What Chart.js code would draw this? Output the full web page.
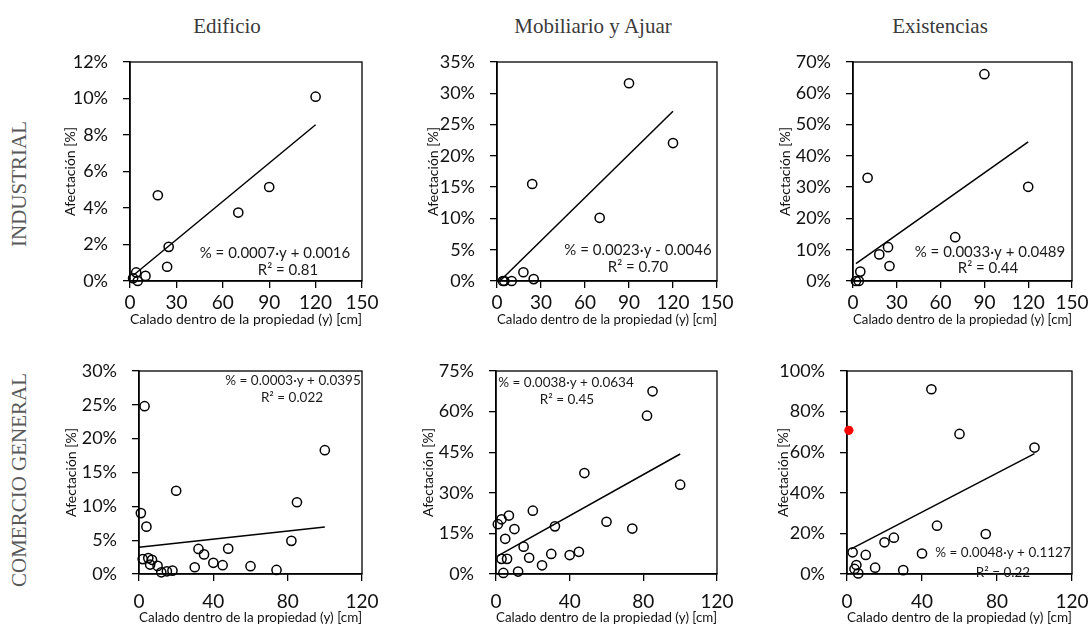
<!DOCTYPE html>
<html>
<head>
<meta charset="utf-8">
<script src="https://cdn.jsdelivr.net/npm/chart.js@4.4.1/dist/chart.umd.min.js"></script>
<style>
  body { margin: 0; background: #fff; width: 1091px; height: 629px; position: relative; overflow: hidden; font-family: 'Liberation Serif', serif; }
  .col { position: absolute; top: 14px; font-size: 21px; color: #3a3a3a; transform: translateX(-50%); white-space: nowrap; }
  .row { position: absolute; left: 19px; font-size: 21px; color: #595959; transform: translate(-50%, -50%) rotate(-90deg); white-space: nowrap; }
  canvas { position: absolute; }
</style>
</head>
<body>
<div class="col" style="left:227px">Edificio</div>
<div class="col" style="left:593px">Mobiliario y Ajuar</div>
<div class="col" style="left:940px">Existencias</div>
<div class="row" style="top:184px">INDUSTRIAL</div>
<div class="row" style="top:480px">COMERCIO GENERAL</div>

<canvas id="c1"></canvas>
<canvas id="c2"></canvas>
<canvas id="c3"></canvas>
<canvas id="c4"></canvas>
<canvas id="c5"></canvas>
<canvas id="c6"></canvas>

<script>
// ---- data (y values in %) ----
// Industrial - Edificio
var edifIndX = [120, 90, 70, 18, 25, 24, 10, 4, 5, 2];
var edifIndY = [10.1, 5.15, 3.75, 4.7, 1.87, 0.78, 0.28, 0.47, 0.0, 0.15];
var edifIndTrendX = [2, 120];
var edifIndTrendY = [0.3, 8.56];

// Industrial - Mobiliario y Ajuar
var mobIndX = [90, 120, 24, 70, 18, 25, 10, 4, 5];
var mobIndY = [31.6, 22.05, 15.5, 10.1, 1.4, 0.3, 0, 0, 0];
var mobIndTrendX = [2, 120];
var mobIndTrendY = [0, 27.14];

// Industrial - Existencias
var exiIndX = [90, 120, 10, 70, 24, 18, 25, 5, 2, 4];
var exiIndY = [66.1, 30.1, 33.0, 14.0, 10.8, 8.5, 4.8, 3.0, 0, 0];
var exiIndTrendX = [2, 120];
var exiIndTrendY = [5.55, 44.49];

// Comercio general - Edificio
var edifComX = [3, 20, 1, 4, 100, 85, 82, 2, 5, 7, 6, 10, 12, 15, 18, 32, 35, 30, 40, 45, 48, 60, 74];
var edifComY = [24.8, 12.3, 9.0, 7.0, 18.3, 10.6, 4.9, 2.2, 2.35, 2.1, 1.4, 1.2, 0.25, 0.4, 0.5, 3.7, 2.9, 1.0, 1.65, 1.3, 3.75, 1.15, 0.6];
var edifComTrendX = [0, 100];
var edifComTrendY = [3.95, 6.95];

// Comercio general - Mobiliario y Ajuar
var mobComX = [85, 82, 48, 100, 60, 74, 20, 7, 3, 1, 10, 32, 5, 15, 3, 6, 18, 30, 40, 45, 25, 4, 12];
var mobComY = [67.5, 58.5, 37.3, 33.0, 19.3, 16.8, 23.4, 21.6, 20.2, 18.4, 16.6, 17.6, 13.0, 10.1, 5.6, 5.6, 6.0, 7.4, 7.0, 8.2, 3.2, 0.4, 0.9];
var mobComTrendX = [1, 100];
var mobComTrendY = [6.72, 44.34];

// Comercio general - Existencias
var exiComX = [45, 60, 100, 48, 74, 20, 25, 3, 10, 40, 5, 4, 15, 6, 30];
var exiComY = [91, 69, 62.3, 23.8, 19.7, 15.6, 17.9, 10.7, 9.4, 10.1, 4.4, 2.5, 3.1, 0.3, 1.9];
var exiComRedX = [1];
var exiComRedY = [70.8];
var exiComTrendX = [2, 100];
var exiComTrendY = [12.23, 59.27];

// axis ranges
var xMaxTop = 150, xStepTop = 30;
var xMaxBottom = 120, xStepBottom = 40;

function pts(xs, ys) {
  var out = [];
  for (var i = 0; i < xs.length; i++) out.push({x: xs[i], y: ys[i]});
  return out;
}

var boxAndText = {
  id: 'boxAndText',
  beforeDatasetsDraw: function(chart) {
    var a = chart.chartArea, ctx = chart.ctx;
    ctx.save();
    ctx.strokeStyle = '#000';
    ctx.lineWidth = 1.3;
    ctx.strokeRect(a.left, a.top, a.right - a.left, a.bottom - a.top);
    ctx.restore();
  },
  afterDatasetsDraw: function(chart, args, opts) {
    var a = chart.chartArea, ctx = chart.ctx;
    ctx.save();
    ctx.fillStyle = '#1a1a1a';
    ctx.font = (opts.size || 14) + 'px Lato';
    ctx.textAlign = 'center';
    ctx.textBaseline = 'middle';
    (opts.labels || []).forEach(function(l) {
      ctx.fillText(l.text, a.left + l.dx, a.top + l.dy);
    });
    ctx.restore();
  }
};

// area = chart area in page pixels
function makePanel(id, area, yAxisW, xAxisH, xPad, xMax, xStep, yMax, yStep, scatter, trend, extra, labels, eqSize) {
  var padTop = 15, padRight = 30;
  var cv = document.getElementById(id);
  var w = area.r - area.l + yAxisW + padRight;
  var h = area.b - area.t + padTop + xAxisH;
  cv.width = w; cv.height = h;
  cv.style.left = (area.l - yAxisW) + 'px';
  cv.style.top = (area.t - padTop) + 'px';

  var datasets = [
    {
      type: 'scatter', data: scatter, clip: false,
      pointRadius: 4.6, pointHoverRadius: 4.6, pointBorderWidth: 1.5,
      borderColor: '#000', backgroundColor: 'rgba(255,255,255,0)'
    },
    {
      type: 'line', data: trend, clip: false,
      borderColor: '#000', borderWidth: 1.5, pointRadius: 0, fill: false
    }
  ];
  if (extra) {
    datasets.push({
      type: 'scatter', data: extra, clip: false,
      pointRadius: 4.6, pointBorderWidth: 0,
      borderColor: '#ff0000', backgroundColor: '#ff0000'
    });
  }

  new Chart(cv, {
    data: { datasets: datasets },
    plugins: [boxAndText],
    options: {
      responsive: false,
      animation: false,
      layout: { padding: { top: padTop, right: padRight, left: 0, bottom: 0 } },
      plugins: {
        legend: { display: false },
        tooltip: { enabled: false },
        boxAndText: { labels: labels, size: eqSize }
      },
      scales: {
        x: {
          type: 'linear', min: 0, max: xMax,
          ticks: { stepSize: xStep, color: '#111', padding: xPad, maxRotation: 0,
                   font: { family: 'Lato', size: 19 } },
          grid: { drawOnChartArea: false, drawTicks: true, tickLength: 7, color: '#000', lineWidth: 1.3 },
          border: { display: true, color: '#000', width: 1.5 },
          title: { display: true, text: 'Calado dentro de la propiedad (y) [cm]', color: '#111',
                   padding: 0, font: { family: 'Lato', size: 14 } },
          afterFit: function(s) { s.height = xAxisH; s.paddingLeft = 0; s.paddingRight = 0; }
        },
        y: {
          type: 'linear', min: 0, max: yMax,
          ticks: { stepSize: yStep, color: '#111', padding: 15,
                   font: { family: 'Lato', size: 18 },
                   callback: function(v) { return v + '%'; } },
          grid: { drawOnChartArea: false, drawTicks: true, tickLength: 7, color: '#000', lineWidth: 1.3 },
          border: { display: true, color: '#000', width: 1.5 },
          title: { display: true, text: 'Afectación [%]', color: '#111',
                   padding: 0, font: { family: 'Lato', size: 14 } },
          afterFit: function(s) { s.width = yAxisW; s.paddingTop = 0; s.paddingBottom = 0; }
        }
      }
    }
  });
}

makePanel('c1', {l: 130, r: 362, t: 62, b: 281}, 68, 47, 3, xMaxTop, xStepTop, 12, 2,
  pts(edifIndX, edifIndY), pts(edifIndTrendX, edifIndTrendY), null,
  [{text: '% = 0.0007·y + 0.0016', dx: 145, dy: 191}, {text: 'R² = 0.81', dx: 158, dy: 208}], 15);

makePanel('c2', {l: 497, r: 717, t: 62, b: 281}, 72, 47, 3, xMaxTop, xStepTop, 35, 5,
  pts(mobIndX, mobIndY), pts(mobIndTrendX, mobIndTrendY), null,
  [{text: '% = 0.0023·y - 0.0046', dx: 141, dy: 188}, {text: 'R² = 0.70', dx: 141, dy: 205}], 15);

makePanel('c3', {l: 853, r: 1072, t: 62, b: 281}, 76, 47, 3, xMaxTop, xStepTop, 70, 10,
  pts(exiIndX, exiIndY), pts(exiIndTrendX, exiIndTrendY), null,
  [{text: '% = 0.0033·y + 0.0489', dx: 137, dy: 190}, {text: 'R² = 0.44', dx: 135, dy: 206}], 15);

makePanel('c4', {l: 139, r: 362, t: 371, b: 574}, 76, 52, 9, xMaxBottom, xStepBottom, 30, 5,
  pts(edifComX, edifComY), pts(edifComTrendX, edifComTrendY), null,
  [{text: '% = 0.0003·y + 0.0395', dx: 154, dy: 10}, {text: 'R² = 0.022', dx: 153, dy: 27}], 13.5);

makePanel('c5', {l: 496, r: 717, t: 371, b: 574}, 76, 52, 9, xMaxBottom, xStepBottom, 75, 15,
  pts(mobComX, mobComY), pts(mobComTrendX, mobComTrendY), null,
  [{text: '% = 0.0038·y + 0.0634', dx: 70, dy: 12}, {text: 'R² = 0.45', dx: 71, dy: 29}], 13.5);

makePanel('c6', {l: 847, r: 1072, t: 371, b: 574}, 72, 52, 9, xMaxBottom, xStepBottom, 100, 20,
  pts(exiComX, exiComY), pts(exiComTrendX, exiComTrendY), pts(exiComRedX, exiComRedY),
  [{text: '% = 0.0048·y + 0.1127', dx: 156, dy: 182}, {text: 'R² = 0.22', dx: 156, dy: 202}], 13.5);
</script>
</body>
</html>
